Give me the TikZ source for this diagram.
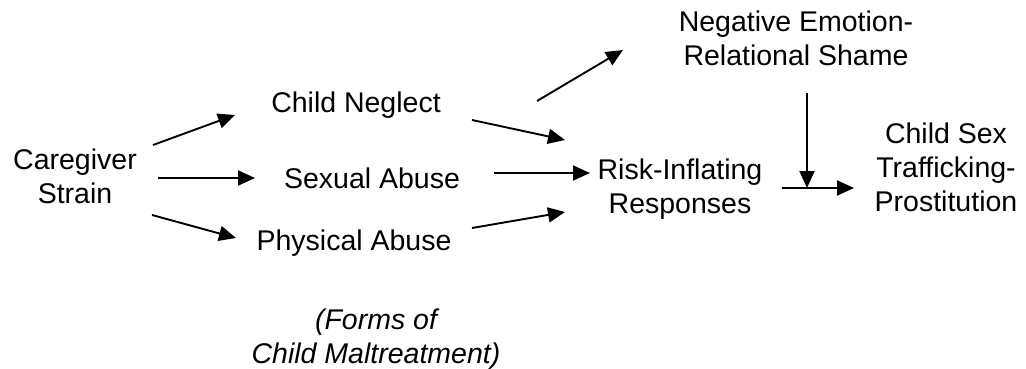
\documentclass[tikz,border=0pt]{standalone}
\usepackage{fontspec}
\setmainfont{Liberation Sans}
\usetikzlibrary{arrows.meta}
\begin{document}
\begin{tikzpicture}[x=1pt,y=-1pt,
  lbl/.style={font=\fontsize{28.5}{34}\selectfont, align=center, inner sep=0pt, anchor=base},
  arr/.style={line width=1.9pt, -{Triangle[length=17pt,width=15pt]}}]
\useasboundingbox (0,0) rectangle (1026,369);
% nodes (base anchor = baseline of the last line)
\node[lbl] (cg) at (75,203) {Caregiver\\Strain};
\node[lbl] (cn) at (356,113) {Child Neglect};
\node[lbl] (sa) at (372,188) {Sexual Abuse};
\node[lbl] (pa) at (354,250) {Physical Abuse};
\node[lbl] (ri) at (680,213) {Risk-Inflating\\Responses};
\node[lbl] (ne) at (796,66) {Negative Emotion-\\Relational Shame};
\node[lbl] (cs) at (946,211) {Child Sex\\Trafficking-\\Prostitution};
\node[lbl, font=\fontsize{28.5}{34}\selectfont\itshape] (fm) at (376,363) {(Forms of\\Child Maltreatment)};
% connector end points
\coordinate (cgA) at (153,145); \coordinate (cnIn) at (235,115);
\coordinate (cgB) at (158,178); \coordinate (saIn) at (255,178);
\coordinate (cgC) at (152,215); \coordinate (paIn) at (236,238);
\coordinate (cnOut) at (472,120); \coordinate (riA) at (565,140);
\coordinate (saOut) at (494,173); \coordinate (riB) at (590,173);
\coordinate (paOut) at (472,228); \coordinate (riC) at (565,212);
\coordinate (cnUp) at (537,101); \coordinate (neIn) at (623,50);
\coordinate (neOut) at (807,93); \coordinate (jn) at (807,188);
\coordinate (riOut) at (782,188); \coordinate (csIn) at (854,188);
% connectors
\draw[arr] (cgA) -- (cnIn);
\draw[arr] (cgB) -- (saIn);
\draw[arr] (cgC) -- (paIn);
\draw[arr] (cnOut) -- (riA);
\draw[arr] (saOut) -- (riB);
\draw[arr] (paOut) -- (riC);
\draw[arr] (cnUp) -- (neIn);
\draw[arr] (neOut) -- (jn);
\draw[arr] (riOut) -- (csIn);
\end{tikzpicture}
\end{document}
